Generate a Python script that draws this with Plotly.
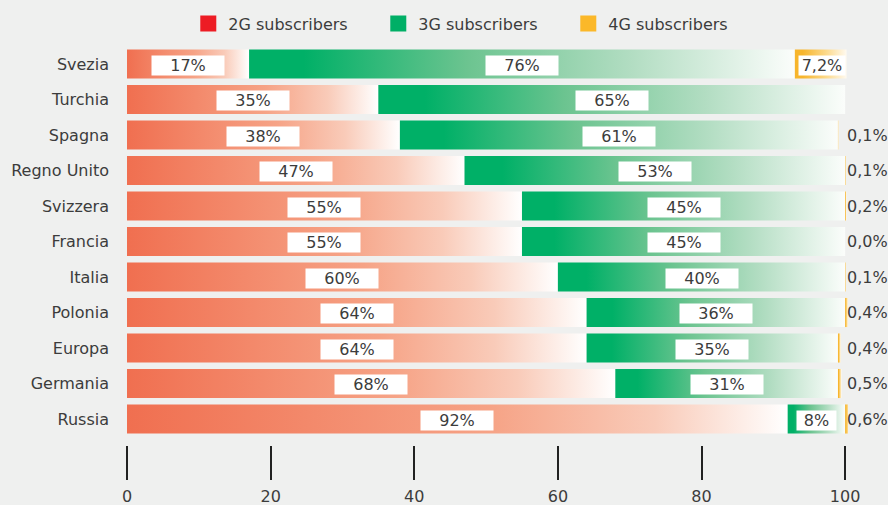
import plotly.graph_objects as go

countries = ["Svezia", "Turchia", "Spagna", "Regno Unito", "Svizzera", "Francia",
             "Italia", "Polonia", "Europa", "Germania", "Russia"]
g2 = [17, 35, 38, 47, 55, 55, 60, 64, 64, 68, 92]
g3 = [76, 65, 61, 53, 45, 45, 40, 36, 35, 31, 8]
g4 = [7.2, None, 0.1, 0.1, 0.2, 0.0, 0.1, 0.4, 0.4, 0.5, 0.6]
series_names = ["2G subscribers", "3G subscribers", "4G subscribers"]
x_ticks = [0, 20, 40, 60, 80, 100]

BG = "#eff0ef"
TXT = "#3c3c3c"
FONT = "DejaVu Sans"
legend_colors = ["#ed1c24", "#00af66", "#fbb829"]
scales = [
    [[0, "#f06f50"], [0.55, "#f6a386"], [0.8, "#f9cbb9"], [1, "#ffffff"]],
    [[0, "#00b067"], [0.1, "#00b067"], [0.4, "#6cc490"], [0.7, "#b2ddc2"], [1, "#fbfdfb"]],
    [[0, "#f7b52c"], [0.15, "#f7b52c"], [0.6, "#fcd98a"], [1, "#fffaf0"]],
]

H = 0.41
fig = go.Figure()
annotations = []

for i, c in enumerate(countries):
    vals = [g2[i], g3[i], g4[i]]
    start = 0.0
    for k, v in enumerate(vals):
        if v is None:
            continue
        end = start + v
        if v > 0:
            fig.add_trace(go.Scatter(
                x=[start, end, end, start, start],
                y=[i - H, i - H, i + H, i + H, i - H],
                mode="none", fill="toself",
                fillgradient=dict(type="horizontal", colorscale=scales[k]),
                hoverinfo="skip", showlegend=False,
            ))
        if k < 2:
            annotations.append(dict(
                x=(start + end) / 2, y=i, xref="x", yref="y",
                text=f"{v:g}%", showarrow=False, bgcolor="white",
                width=72 if v >= 10 else 39, height=19, borderpad=0, yshift=-1,
                font=dict(family=FONT, size=16, color=TXT)))
        else:
            label = f"{v:.1f}".replace(".", ",") + "%"
            if v > 5:
                annotations.append(dict(
                    x=(start + end) / 2, y=i, xref="x", yref="y",
                    text=label, showarrow=False, bgcolor="white",
                    width=46, height=19, borderpad=0, yshift=-1, xshift=1,
                    font=dict(family=FONT, size=16, color=TXT)))
            else:
                annotations.append(dict(
                    x=100, y=i, xref="x", yref="y", xanchor="left", xshift=0,
                    text=label, showarrow=False,
                    font=dict(family=FONT, size=16, color=TXT)))
        start = end

for name, col in zip(series_names, legend_colors):
    fig.add_trace(go.Scatter(
        x=[None], y=[None], mode="markers", name=name,
        marker=dict(symbol="square", size=16, color=col, line=dict(width=0)),
    ))

fig.update_layout(
    width=888, height=505,
    paper_bgcolor=BG, plot_bgcolor=BG,
    margin=dict(l=127, r=40, t=39, b=60, autoexpand=False),
    font=dict(family=FONT, size=16, color=TXT),
    showlegend=True,
    legend=dict(orientation="h", x=0.085, y=1.038, xanchor="left", yanchor="middle",
                entrywidth=145, font=dict(family=FONT, size=16, color=TXT),
                bgcolor="rgba(0,0,0,0)"),
    annotations=annotations,
    xaxis=dict(range=[0, 100.4], tickvals=x_ticks, showgrid=False, zeroline=False,
               showline=False, ticks="outside", ticklen=34, tickwidth=2,
               tickcolor="#222222", ticklabelstandoff=3,
               tickfont=dict(family=FONT, size=16, color=TXT), fixedrange=True),
    yaxis=dict(range=[10 + 26 / 35.5, -25 / 35.5], tickvals=list(range(len(countries))),
               ticktext=countries, showgrid=False, zeroline=False, showline=False,
               ticks="", ticklabelstandoff=17,
               tickfont=dict(family=FONT, size=16, color=TXT), fixedrange=True),
)

fig.write_html("out.html", config={"displayModeBar": False},
               post_script="document.body.style.margin='0';")
